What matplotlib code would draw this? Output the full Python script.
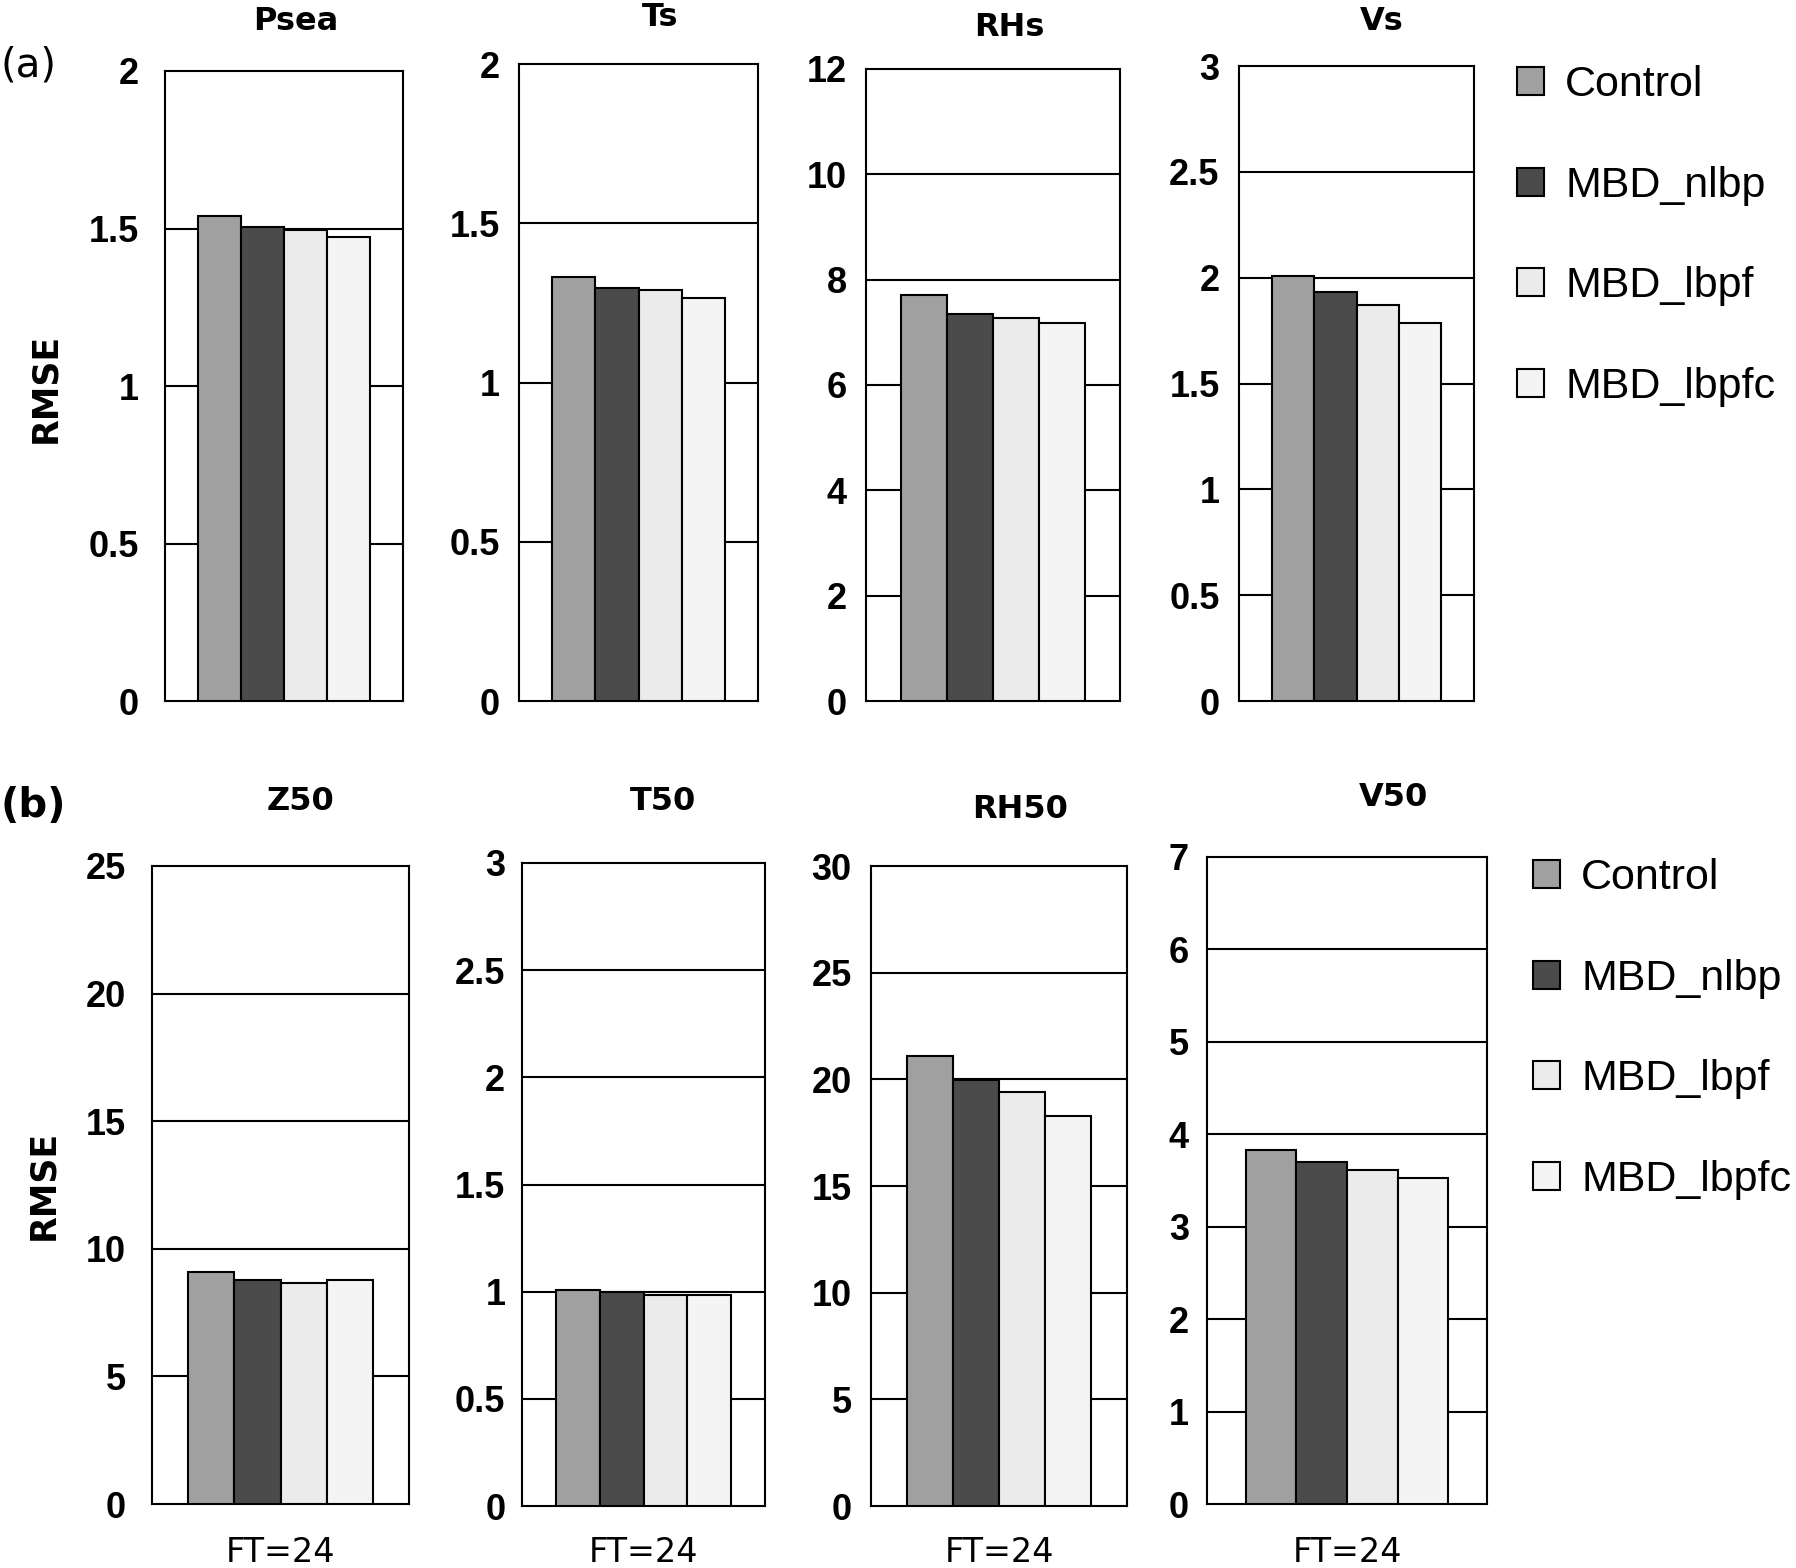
import matplotlib
matplotlib.use("Agg")
import matplotlib.pyplot as plt
from matplotlib.patches import Patch

# ---- data ----
series = ["Control", "MBD_nlbp", "MBD_lbpf", "MBD_lbpfc"]
colors = ["#a0a0a0", "#4b4b4b", "#ebebeb", "#f4f4f4"]

top_vars = ["Psea", "Ts", "RHs", "Vs"]
Psea = [1.54, 1.506, 1.496, 1.474]
Ts = [1.33, 1.297, 1.29, 1.265]
RHs = [7.70, 7.35, 7.27, 7.17]
Vs = [2.01, 1.93, 1.87, 1.785]

bot_vars = ["Z50", "T50", "RH50", "V50"]
Z50 = [9.09, 8.79, 8.67, 8.79]
T50 = [1.01, 1.0, 0.985, 0.985]
RH50 = [21.09, 19.95, 19.4, 18.3]
V50 = [3.83, 3.70, 3.61, 3.53]

top_vals = [Psea, Ts, RHs, Vs]
bot_vals = [Z50, T50, RH50, V50]

top_ticks = [[0, 0.5, 1, 1.5, 2], [0, 0.5, 1, 1.5, 2], [0, 2, 4, 6, 8, 10, 12], [0, 0.5, 1, 1.5, 2, 2.5, 3]]
bot_ticks = [[0, 5, 10, 15, 20, 25], [0, 0.5, 1, 1.5, 2, 2.5, 3], [0, 5, 10, 15, 20, 25, 30], [0, 1, 2, 3, 4, 5, 6, 7]]
xlabel = "FT=24"

W, H = 1796, 1568
fig = plt.figure(figsize=(W / 100, H / 100), dpi=100)

TICKFONT = ["Liberation Sans", "DejaVu Sans"]


def fmt(v):
    return ("%g" % v)


def add_panel(box, vals, ticks, title, title_xy, pad, ftlabel=False):
    x0, y0, x1, y1 = box
    ax = fig.add_axes([x0 / W, 1 - y1 / H, (x1 - x0) / W, (y1 - y0) / H])
    xs = range(len(vals))
    ax.bar(xs, vals, width=1.0, color=colors, edgecolor="black", linewidth=1.5, zorder=3)
    ax.set_xlim(-1.27, len(vals) - 1 + 1.27)
    ax.set_ylim(ticks[0], ticks[-1])
    ax.set_yticks(ticks)
    ax.set_yticklabels([fmt(t) for t in ticks], fontsize=26, fontweight="bold", family=TICKFONT)
    ax.tick_params(axis="y", length=0, pad=pad)
    ax.set_xticks([])
    for t in ticks[1:-1]:
        ax.axhline(t, color="black", linewidth=1.5, zorder=1)
    for s in ax.spines.values():
        s.set_linewidth(1.5)
        s.set_color("black")
    fig.text(title_xy[0] / W, 1 - title_xy[1] / H, title, ha="center", va="center",
             fontsize=23, fontweight="bold")
    if ftlabel:
        fig.text((x0 + x1) / 2 / W, 1 - 1553 / H, xlabel, ha="center", va="center", fontsize=24)
    return ax


top_boxes = [(165, 71, 403, 701), (519, 64, 758, 701), (866, 69, 1120, 701), (1239, 66, 1474, 701)]
top_titles = [(296, 21), (660, 18), (1009, 27), (1382, 21)]
top_pads = [19, 14, 14, 14]
for b, v, t, name, txy, p in zip(top_boxes, top_vals, top_ticks, top_vars, top_titles, top_pads):
    add_panel(b, v, t, name, txy, p)

bot_boxes = [(152, 866, 409, 1504), (522, 863, 765, 1506), (871, 866, 1127, 1506), (1207, 857, 1487, 1504)]
bot_titles = [(301, 801), (663, 801), (1020, 810), (1393, 797)]
bot_pads = [19, 12, 14, 13]
for b, v, t, name, txy, p in zip(bot_boxes, bot_vals, bot_ticks, bot_vars, bot_titles, bot_pads):
    add_panel(b, v, t, name, txy, p, ftlabel=True)

# panel letters and y labels
fig.text(0 / W, 1 - 66 / H, "(a)", ha="left", va="center", fontsize=29)
fig.text(0 / W, 1 - 806 / H, "(b)", ha="left", va="center", fontsize=29, fontweight="bold")
fig.text(45 / W, 1 - 388 / H, "RMSE", rotation=90, ha="center", va="center", fontsize=25, fontweight="bold")
fig.text(43 / W, 1 - 1185 / H, "RMSE", rotation=90, ha="center", va="center", fontsize=25, fontweight="bold")

handles = [Patch(facecolor=c, edgecolor="black", linewidth=1.5) for c in colors]
for anchor in [(1517, 65), (1533, 858)]:
    fig.legend(handles, series, loc="upper left",
               bbox_to_anchor=(anchor[0] / W, 1 - anchor[1] / H),
               frameon=False, borderpad=0, borderaxespad=0,
               prop={"family": "Liberation Sans", "size": 31},
               handlelength=0.62, handleheight=0.62, handletextpad=0.5, labelspacing=1.41)

fig.savefig("out.png", dpi=100)
